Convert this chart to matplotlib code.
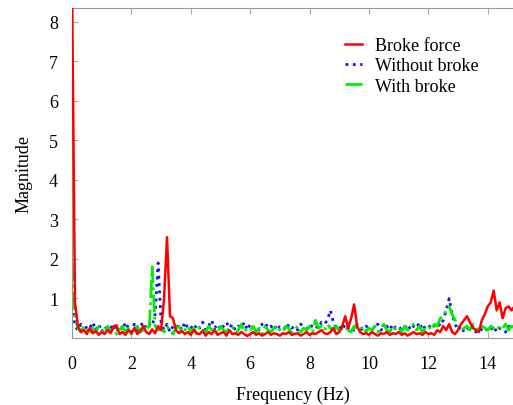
import numpy as np
import matplotlib
matplotlib.use("Agg")
import matplotlib.pyplot as plt

plt.rcParams['font.family'] = ['Liberation Serif', 'DejaVu Serif']

step_hz = 0.1
broke_force = [
    9.0, 0.9, 0.3, 0.15, 0.2, 0.1, 0.25, 0.12, 0.18, 0.08,
    0.15, 0.1, 0.2, 0.12, 0.3, 0.32, 0.1, 0.15, 0.08, 0.2,
    0.12, 0.25, 0.1, 0.18, 0.3, 0.15, 0.1, 0.22, 0.12, 0.3,
    0.2, 1.0, 2.55, 0.55, 0.5, 0.2, 0.12, 0.18, 0.1, 0.15,
    0.08, 0.2, 0.12, 0.1, 0.18, 0.06, 0.15, 0.1, 0.2, 0.08,
    0.12, 0.15, 0.06, 0.2, 0.1, 0.12, 0.08, 0.15, 0.1, 0.05,
    0.1, 0.15, 0.08, 0.12, 0.06, 0.1, 0.15, 0.08, 0.12, 0.1,
    0.06, 0.12, 0.1, 0.15, 0.08, 0.1, 0.12, 0.06, 0.1, 0.15,
    0.08, 0.12, 0.1, 0.15, 0.2, 0.12, 0.1, 0.15, 0.25, 0.1,
    0.15, 0.3, 0.55, 0.25, 0.5, 0.85, 0.3, 0.15, 0.1, 0.12,
    0.08, 0.15, 0.1, 0.06, 0.12, 0.1, 0.15, 0.08, 0.12, 0.1,
    0.15, 0.08, 0.12, 0.06, 0.1, 0.15, 0.1, 0.12, 0.08, 0.15,
    0.1, 0.12, 0.08, 0.2, 0.15, 0.3, 0.2, 0.35, 0.15, 0.1,
    0.2, 0.35, 0.45, 0.55, 0.4, 0.25, 0.2, 0.15, 0.45, 0.6,
    0.8, 0.9, 1.2, 0.7, 0.9, 0.5, 0.75, 0.8, 0.7, 0.8, 0.75,
]
without_broke = [
    1.0, 0.3, 0.2, 0.35, 0.15, 0.3, 0.25, 0.4, 0.2, 0.35,
    0.15, 0.3, 0.2, 0.25, 0.35, 0.15, 0.3, 0.2, 0.4, 0.25,
    0.15, 0.35, 0.2, 0.3, 0.4, 0.25, 0.35, 0.3, 0.6, 1.9,
    0.4, 0.2, 0.35, 0.15, 0.3, 0.25, 0.35, 0.2, 0.4, 0.25,
    0.3, 0.2, 0.35, 0.25, 0.4, 0.2, 0.3, 0.45, 0.25, 0.35,
    0.2, 0.3, 0.4, 0.25, 0.35, 0.2, 0.3, 0.25, 0.4, 0.2,
    0.35, 0.25, 0.3, 0.2, 0.35, 0.4, 0.25, 0.3, 0.2, 0.35,
    0.25, 0.3, 0.2, 0.35, 0.25, 0.3, 0.2, 0.35, 0.3, 0.25,
    0.2, 0.35, 0.3, 0.25, 0.4, 0.35, 0.45, 0.7, 0.4, 0.25,
    0.3, 0.2, 0.35, 0.25, 0.3, 0.2, 0.35, 0.25, 0.2, 0.3,
    0.25, 0.2, 0.3, 0.35, 0.2, 0.25, 0.3, 0.2, 0.35, 0.25,
    0.3, 0.2, 0.25, 0.35, 0.2, 0.3, 0.25, 0.4, 0.2, 0.3,
    0.25, 0.35, 0.3, 0.4, 0.3, 0.45, 0.7, 1.0, 0.6, 0.35,
    0.2, 0.3, 0.15, 0.25, 0.2, 0.3, 0.15, 0.25, 0.2, 0.15,
    0.25, 0.2, 0.3, 0.15, 0.25, 0.2, 0.15, 0.3, 0.2, 0.25, 0.3,
]
with_broke = [
    1.9, 0.5, 0.25, 0.15, 0.3, 0.2, 0.1, 0.25, 0.15, 0.3,
    0.2, 0.1, 0.3, 0.15, 0.25, 0.1, 0.2, 0.3, 0.15, 0.25,
    0.1, 0.2, 0.3, 0.15, 0.2, 0.35, 0.2, 1.8, 0.3, 0.2,
    0.25, 0.15, 0.3, 0.2, 0.1, 0.25, 0.3, 0.15, 0.2, 0.3,
    0.15, 0.25, 0.1, 0.3, 0.2, 0.15, 0.3, 0.2, 0.25, 0.1,
    0.3, 0.2, 0.15, 0.25, 0.3, 0.1, 0.2, 0.35, 0.15, 0.25,
    0.2, 0.3, 0.15, 0.25, 0.1, 0.3, 0.2, 0.15, 0.25, 0.3,
    0.2, 0.15, 0.3, 0.25, 0.1, 0.2, 0.3, 0.15, 0.25, 0.2,
    0.3, 0.15, 0.45, 0.25, 0.3, 0.2, 0.35, 0.25, 0.2, 0.3,
    0.15, 0.25, 0.3, 0.2, 0.15, 0.3, 0.25, 0.2, 0.3, 0.15,
    0.25, 0.2, 0.3, 0.15, 0.25, 0.35, 0.2, 0.15, 0.3, 0.2,
    0.25, 0.15, 0.3, 0.2, 0.25, 0.35, 0.2, 0.3, 0.15, 0.25,
    0.3, 0.2, 0.35, 0.3, 0.5, 0.55, 0.7, 0.8, 0.6, 0.45,
    0.3, 0.2, 0.25, 0.3, 0.2, 0.35, 0.25, 0.2, 0.3, 0.25,
    0.2, 0.3, 0.25, 0.2, 0.3, 0.25, 0.35, 0.2, 0.3, 0.25, 0.2,
]
labels = ["Broke force", "Without broke", "With broke"]
x_ticks = [0, 2, 4, 6, 8, 10, 12, 14]
y_ticks = [1, 2, 3, 4, 5, 6, 7, 8]

fig = plt.figure(figsize=(5.13, 4.06), dpi=100)
ax = fig.add_axes([72/513, 1-339/406, 1-72/513, (339-9)/406])

def freq(s):
    return np.arange(len(s)) * step_hz

ax.plot(freq(broke_force), broke_force, color='#ff0000', lw=1.8, ls='-', label=labels[0], zorder=3)
ax.plot(freq(without_broke), without_broke, color='#1010ff', lw=2.0, ls=':', label=labels[1], zorder=2)
ax.plot(freq(with_broke), with_broke, color='#00ee00', lw=2.0, ls='-.', label=labels[2], zorder=2.5)

ax.set_xlim(0, 14.85)
ax.set_ylim(0, 8.35)
ax.set_xticks(x_ticks)
ax.set_yticks(y_ticks)
ax.tick_params(direction='in', length=4, color='#aaaaaa', labelsize=13, top=True, pad=10)
ax.tick_params(axis='x', pad=12)
for sp in ['top', 'bottom', 'left']:
    ax.spines[sp].set_color('#999999')
ax.spines['right'].set_visible(False)
ax.set_xlabel('Frequency (Hz)', fontsize=13, labelpad=10)
ax.set_ylabel('Magnitude', fontsize=13, labelpad=12)

fig.legend(loc='upper left', bbox_to_anchor=(338/513, 1-31/406), frameon=False,
           fontsize=13, handlelength=0.95, handletextpad=0.72, labelspacing=0.18,
           borderaxespad=0)

fig.savefig('out.png', dpi=100)
